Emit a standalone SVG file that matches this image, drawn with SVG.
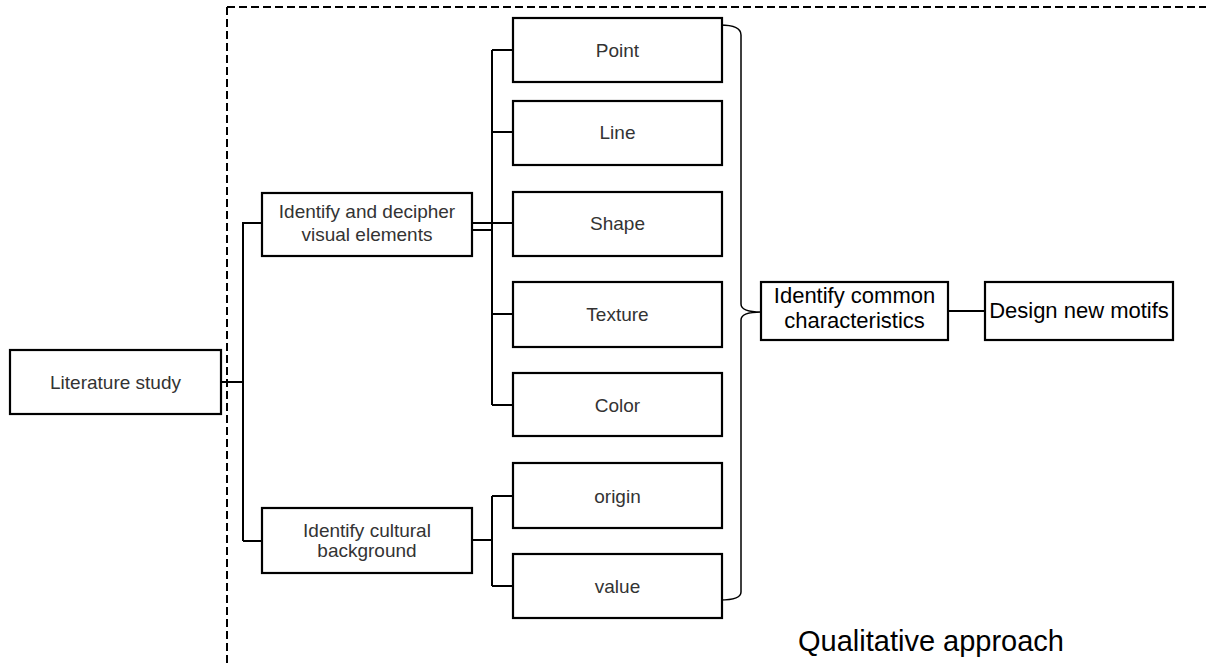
<svg xmlns="http://www.w3.org/2000/svg" width="1206" height="666" viewBox="0 0 1206 666">
<style>
.box{fill:#fff;stroke:#000;stroke-width:2.2}
.lbl{font-family:"Liberation Sans",Arial,sans-serif;font-size:19px;fill:#333;text-anchor:middle}
.big{font-family:"Liberation Sans",Arial,sans-serif;font-size:22px;fill:#000;text-anchor:middle}
.con{fill:none;stroke:#000;stroke-width:2}
.dash{fill:none;stroke:#000;stroke-width:2;stroke-dasharray:8 4}
</style>
<rect width="1206" height="666" fill="#fff"/>
<g id="frame">
<path class="dash" d="M227,7 H1206 M227,7 V666"/>
</g>
<g id="connectors">
<path class="con" d="M221,382 H243 M243,222 V541 M243,223 H262 M243,541 H262"/>
<path class="con" d="M472,223 H492 M472,230 H492 M492,50 V405 M492,50 H513 M492,132 H513 M492,223 H513 M492,314 H513 M492,405 H513"/>
<path class="con" d="M472,540 H492 M492,496 V586 M492,496 H513 M492,586 H513"/>
<path class="con" style="stroke-width:1.5" d="M720,25 Q741,25 741,35 V304 Q741,312 761,312 Q741,312 741,320 V592 Q741,600 720,600"/>
<path class="con" d="M948,311 H985"/>
</g>
<g id="n-literature"><rect class="box" x="10" y="350" width="211" height="64"/><text class="lbl" x="115.5" y="389">Literature study</text></g>
<g id="n-visual"><rect class="box" x="262" y="193" width="210" height="63"/><text class="lbl" x="367" y="218">Identify and decipher</text><text class="lbl" x="367" y="241">visual elements</text></g>
<g id="n-cultural"><rect class="box" x="262" y="508" width="210" height="65"/><text class="lbl" x="367" y="537">Identify cultural</text><text class="lbl" x="367" y="557">background</text></g>
<g id="n-point"><rect class="box" x="513" y="18" width="209" height="64"/><text class="lbl" x="617.5" y="57">Point</text></g>
<g id="n-line"><rect class="box" x="513" y="101" width="209" height="64"/><text class="lbl" x="617.5" y="139">Line</text></g>
<g id="n-shape"><rect class="box" x="513" y="192" width="209" height="64"/><text class="lbl" x="617.5" y="230">Shape</text></g>
<g id="n-texture"><rect class="box" x="513" y="282" width="209" height="65"/><text class="lbl" x="617.5" y="321">Texture</text></g>
<g id="n-color"><rect class="box" x="513" y="373" width="209" height="63"/><text class="lbl" x="617.5" y="412">Color</text></g>
<g id="n-origin"><rect class="box" x="513" y="463" width="209" height="65"/><text class="lbl" x="617.5" y="503">origin</text></g>
<g id="n-value"><rect class="box" x="513" y="554" width="209" height="64"/><text class="lbl" x="617.5" y="593">value</text></g>
<g id="n-common"><rect class="box" x="761" y="282" width="187" height="58"/><text class="big" x="854.5" y="303">Identify common</text><text class="big" x="854.5" y="328">characteristics</text></g>
<g id="n-design"><rect class="box" x="985" y="282" width="188" height="58"/><text class="big" x="1079" y="318">Design new motifs</text></g>
<g id="caption"><text x="798" y="651" style="font-family:'Liberation Sans',Arial,sans-serif;font-size:29px;fill:#000">Qualitative approach</text></g>
</svg>
